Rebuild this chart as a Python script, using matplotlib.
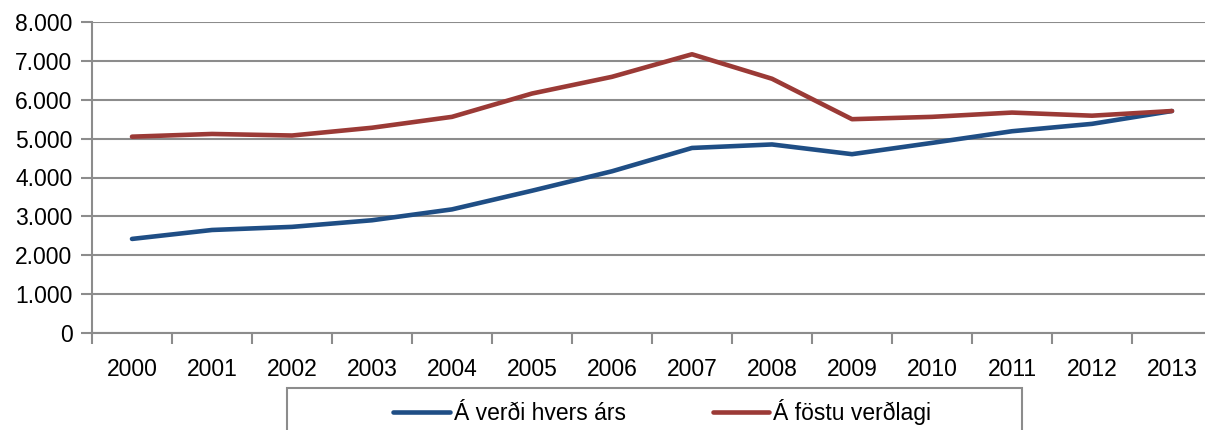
import numpy as np
import matplotlib.pyplot as plt
from matplotlib.patches import Rectangle

plt.rcParams['font.family'] = ['Liberation Sans', 'DejaVu Sans']

# data
years = ['2000', '2001', '2002', '2003', '2004', '2005', '2006',
         '2007', '2008', '2009', '2010', '2011', '2012', '2013']
current_prices = [2420, 2650, 2730, 2900, 3180, 3660, 4160,
                  4760, 4850, 4600, 4890, 5190, 5380, 5710]
fixed_prices = [5050, 5120, 5080, 5280, 5560, 6160, 6590,
                7170, 6540, 5500, 5560, 5670, 5590, 5710]
labels = ['Á verði hvers árs', 'Á föstu verðlagi']
colors = ['#1f4e85', '#9b3a36']
yticks = [0, 1000, 2000, 3000, 4000, 5000, 6000, 7000, 8000]

W, H = 1205, 430
fig = plt.figure(figsize=(W / 100, H / 100), dpi=100)
# axes runs past the right edge, as in the reference
ax = fig.add_axes([92 / W, 1 - 333 / H, 1120 / W, 311 / H])

x = np.arange(len(years))
ax.plot(x, current_prices, color=colors[0], lw=3.3, label=labels[0],
        solid_capstyle='round', zorder=3)
ax.plot(x, fixed_prices, color=colors[1], lw=3.3, label=labels[1],
        solid_capstyle='round', zorder=3)

ax.set_xlim(-0.5, len(years) - 0.5)
ax.set_ylim(0, 8000)
ax.set_yticks(yticks)
ax.set_yticklabels([f'{v:,}'.replace(',', '.') for v in yticks])
ax.set_xticks(x)
ax.set_xticklabels(years)
ax.set_xticks(np.arange(len(years) + 1) - 0.5, minor=True)

grid_c = '#8c8c8c'
ax.yaxis.grid(True, color=grid_c, lw=1.5)
ax.set_axisbelow(True)
for s in ['top', 'right']:
    ax.spines[s].set_visible(False)
for s in ['left', 'bottom']:
    ax.spines[s].set_color(grid_c)
    ax.spines[s].set_linewidth(1.5)

fs = 16.5
ax.tick_params(axis='x', which='major', length=0, pad=18, labelsize=fs)
ax.tick_params(axis='x', which='minor', length=8, width=1.5, color=grid_c)
ax.tick_params(axis='y', length=8, width=1.5, color=grid_c, pad=6, labelsize=fs)

# legend box, cut off at the bottom like the original
fig.patches.append(Rectangle((287 / W, -0.2), (1022 - 287) / W, 0.2 + 1 - 388 / H,
                             transform=fig.transFigure, fill=False,
                             edgecolor=grid_c, lw=1.5))
fig.legend(loc='center left', bbox_to_anchor=(382 / W, 1 - 412 / H), ncol=2,
           frameon=False, fontsize=fs, handlelength=2.45, handletextpad=0.17,
           columnspacing=3.8, borderpad=0)

fig.savefig('out.png', dpi=100)
